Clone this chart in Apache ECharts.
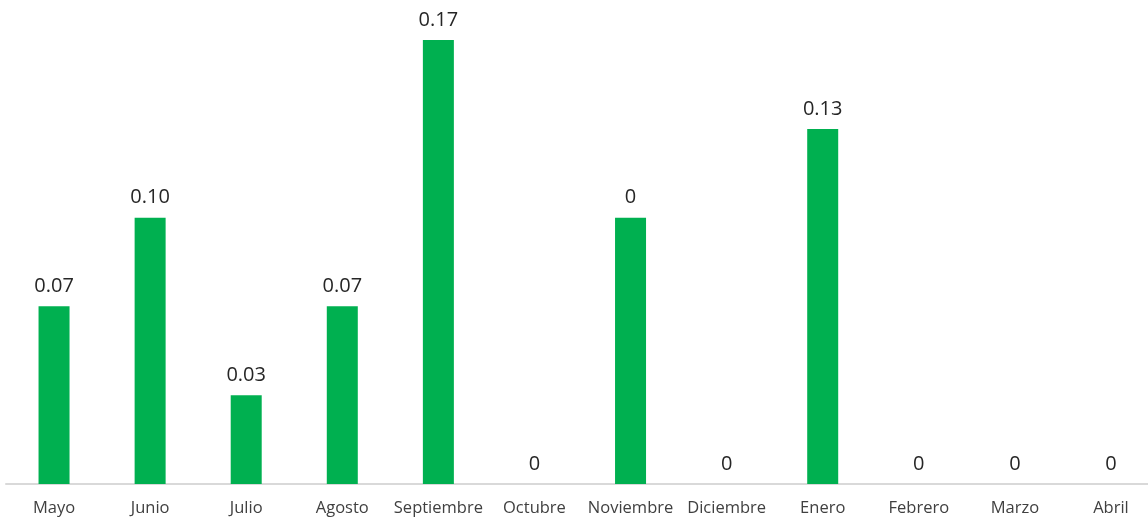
<!DOCTYPE html>
<html>
<head>
<meta charset="utf-8">
<script src="https://cdn.jsdelivr.net/npm/echarts@6/dist/echarts.min.js"></script>
<style>
html,body{margin:0;padding:0;background:#fff;}
#chart{width:1148px;height:519px;}
</style>
</head>
<body>
<div id="chart"></div>
<script>
const categories = ["Mayo","Junio","Julio","Agosto","Septiembre","Octubre","Noviembre","Diciembre","Enero","Febrero","Marzo","Abril"];
const values = [0.0667, 0.1, 0.0333, 0.0667, 0.1667, 0, 0.1, 0, 0.1333, 0, 0, 0];
const valueLabels = ["0.07","0.10","0.03","0.07","0.17","0","0","0","0.13","0","0","0"];

const chart = echarts.init(document.getElementById('chart'));
chart.setOption({
  animation: false,
  grid: { left: 6, width: 1153, top: 0, bottom: 35, outerBoundsMode: 'none' },
  xAxis: {
    type: 'category',
    data: categories,
    axisLine: { lineStyle: { color: '#d9d9d9', width: 2 } },
    axisTick: { show: false },
    axisLabel: { color: '#404040', fontSize: 16.5, margin: 16, fontFamily: 'Open Sans', interval: 0 }
  },
  yAxis: {
    type: 'value',
    min: 0,
    max: 0.1817,
    show: false,
    splitLine: { show: false }
  },
  series: [{
    type: 'bar',
    data: values,
    barWidth: 31,
    itemStyle: { color: '#00b050' },
    label: {
      show: true,
      position: 'top',
      distance: 10,
      color: '#262626',
      fontSize: 20,
      fontFamily: 'Open Sans',
      formatter: p => valueLabels[p.dataIndex]
    }
  }]
});
</script>
</body>
</html>
